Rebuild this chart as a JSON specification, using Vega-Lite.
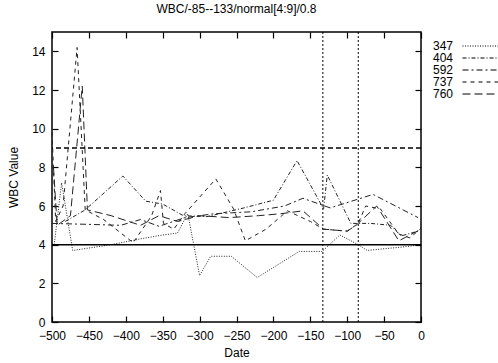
{
  "$schema": "https://vega.github.io/schema/vega-lite/v6.json",
  "width": 369,
  "height": 290,
  "autosize": {"type": "none"},
  "padding": {"left": 52, "top": 32, "right": 77, "bottom": 41},
  "title": {"text": "WBC/-85--133/normal[4:9]/0.8", "fontSize": 12, "fontWeight": "normal", "font": "Liberation Sans", "anchor": "middle", "offset": 15, "color": "black"},
  "config": {
    "font": "Liberation Sans",
    "view": {"stroke": "black", "strokeWidth": 1.5},
    "axis": {"domain": false, "grid": false, "tickColor": "black", "tickSize": -6, "tickWidth": 1.2, "labelFontSize": 12, "labelColor": "black", "titleFontSize": 12, "titleFontWeight": "normal", "titleColor": "black", "labelFont": "Liberation Sans", "titleFont": "Liberation Sans", "labelOverlap": false, "labelFlush": false}
  },
  "datasets": {
    "wbc": [
      {"id": "347", "date": -497, "v": 4.0}, {"id": "347", "date": -487, "v": 7.2}, {"id": "347", "date": -472, "v": 3.7}, {"id": "347", "date": -420, "v": 4.0}, {"id": "347", "date": -380, "v": 4.3}, {"id": "347", "date": -350, "v": 4.5}, {"id": "347", "date": -330, "v": 4.6}, {"id": "347", "date": -316, "v": 5.6}, {"id": "347", "date": -300, "v": 2.4}, {"id": "347", "date": -285, "v": 3.4}, {"id": "347", "date": -257, "v": 3.4}, {"id": "347", "date": -222, "v": 2.3}, {"id": "347", "date": -165, "v": 3.65}, {"id": "347", "date": -134, "v": 3.65}, {"id": "347", "date": -110, "v": 4.5}, {"id": "347", "date": -85, "v": 4.0}, {"id": "347", "date": -73, "v": 3.7}, {"id": "347", "date": -20, "v": 3.9}, {"id": "347", "date": 0, "v": 4.0},
      {"id": "404", "date": -482, "v": 5.2}, {"id": "404", "date": -455, "v": 5.8}, {"id": "404", "date": -404, "v": 7.55}, {"id": "404", "date": -373, "v": 6.25}, {"id": "404", "date": -350, "v": 6.1}, {"id": "404", "date": -322, "v": 5.5}, {"id": "404", "date": -290, "v": 5.45}, {"id": "404", "date": -240, "v": 5.9}, {"id": "404", "date": -200, "v": 6.3}, {"id": "404", "date": -168, "v": 8.35}, {"id": "404", "date": -132, "v": 5.85}, {"id": "404", "date": -127, "v": 7.6}, {"id": "404", "date": -95, "v": 5.1}, {"id": "404", "date": -68, "v": 5.1}, {"id": "404", "date": -41, "v": 5.0}, {"id": "404", "date": -27, "v": 4.45}, {"id": "404", "date": -4, "v": 4.7},
      {"id": "592", "date": -500, "v": 5.1}, {"id": "592", "date": -450, "v": 5.05}, {"id": "592", "date": -407, "v": 5.0}, {"id": "592", "date": -380, "v": 5.3}, {"id": "592", "date": -355, "v": 4.95}, {"id": "592", "date": -320, "v": 5.4}, {"id": "592", "date": -280, "v": 5.6}, {"id": "592", "date": -230, "v": 5.7}, {"id": "592", "date": -185, "v": 6.0}, {"id": "592", "date": -160, "v": 6.4}, {"id": "592", "date": -123, "v": 5.9}, {"id": "592", "date": -65, "v": 6.6}, {"id": "592", "date": -4, "v": 5.4},
      {"id": "737", "date": -500, "v": 9.8}, {"id": "737", "date": -495, "v": 5.2}, {"id": "737", "date": -485, "v": 6.0}, {"id": "737", "date": -466, "v": 14.2}, {"id": "737", "date": -455, "v": 5.8}, {"id": "737", "date": -430, "v": 5.3}, {"id": "737", "date": -390, "v": 4.1}, {"id": "737", "date": -365, "v": 5.5}, {"id": "737", "date": -353, "v": 6.8}, {"id": "737", "date": -349, "v": 5.1}, {"id": "737", "date": -335, "v": 4.8}, {"id": "737", "date": -320, "v": 5.6}, {"id": "737", "date": -278, "v": 7.4}, {"id": "737", "date": -254, "v": 5.85}, {"id": "737", "date": -238, "v": 4.2}, {"id": "737", "date": -210, "v": 4.8}, {"id": "737", "date": -181, "v": 5.75}, {"id": "737", "date": -150, "v": 5.2}, {"id": "737", "date": -132, "v": 4.8}, {"id": "737", "date": -100, "v": 4.7}, {"id": "737", "date": -85, "v": 5.1}, {"id": "737", "date": -75, "v": 6.0}, {"id": "737", "date": -55, "v": 5.85}, {"id": "737", "date": -30, "v": 4.55}, {"id": "737", "date": -15, "v": 4.35}, {"id": "737", "date": 0, "v": 4.85},
      {"id": "760", "date": -498, "v": 8.0}, {"id": "760", "date": -493, "v": 5.0}, {"id": "760", "date": -475, "v": 5.5}, {"id": "760", "date": -459, "v": 12.2}, {"id": "760", "date": -452, "v": 5.8}, {"id": "760", "date": -420, "v": 5.5}, {"id": "760", "date": -380, "v": 5.0}, {"id": "760", "date": -355, "v": 5.5}, {"id": "760", "date": -330, "v": 5.2}, {"id": "760", "date": -300, "v": 5.5}, {"id": "760", "date": -260, "v": 5.4}, {"id": "760", "date": -220, "v": 5.5}, {"id": "760", "date": -190, "v": 5.6}, {"id": "760", "date": -160, "v": 5.75}, {"id": "760", "date": -132, "v": 4.8}, {"id": "760", "date": -100, "v": 4.7}, {"id": "760", "date": -88, "v": 5.0}, {"id": "760", "date": -60, "v": 6.0}, {"id": "760", "date": -30, "v": 4.2}, {"id": "760", "date": 0, "v": 4.8}
    ],
    "hlines": [{"y": 4, "kind": "solid"}, {"y": 9, "kind": "dash"}],
    "vlines": [{"x": -133}, {"x": -85}]
  },
  "layer": [
    {
      "data": {"name": "wbc"},
      "mark": {"type": "line", "strokeWidth": 1, "color": "#222"},
      "encoding": {
        "x": {"field": "date", "type": "quantitative", "scale": {"domain": [-500, 0], "nice": false}, "axis": {"title": "Date", "values": [-500, -450, -400, -350, -300, -250, -200, -150, -100, -50, 0], "labelPadding": 14, "titlePadding": 6}},
        "y": {"field": "v", "type": "quantitative", "scale": {"domain": [0, 15], "nice": false}, "axis": {"title": "WBC Value", "values": [0, 2, 4, 6, 8, 10, 12, 14], "labelPadding": 13, "titlePadding": 11}},
        "strokeDash": {"field": "id", "type": "nominal", "scale": {"domain": ["347", "404", "592", "737", "760"], "range": [[1, 1.5], [4, 2, 1, 2], [6, 3, 2, 3], [4, 4], [8, 4]]},
          "legend": {"orient": "none", "legendX": 381, "legendY": 8, "title": null, "symbolType": "M-4,0H4", "symbolStrokeColor": "black", "symbolStrokeWidth": 1, "symbolSize": 81, "symbolOffset": 41.5, "labelOffset": -53.5, "labelFontSize": 12, "labelColor": "black", "rowPadding": 0}}
      }
    },
    {
      "data": {"name": "hlines"},
      "mark": {"type": "rule", "color": "black", "strokeWidth": 1.5},
      "encoding": {
        "y": {"field": "y", "type": "quantitative", "axis": {"orient": "right", "labels": false, "title": null, "values": [0, 2, 4, 6, 8, 10, 12, 14]}},
        "strokeDash": {"field": "kind", "type": "nominal", "scale": {"domain": ["solid", "dash", "x1", "x2", "x3"], "range": [[1, 0], [5, 3], [1, 0], [1, 0], [1, 0]]}, "legend": null}
      }
    },
    {
      "data": {"name": "vlines"},
      "mark": {"type": "rule", "color": "black", "strokeWidth": 1, "strokeDash": [2, 2]},
      "encoding": {
        "x": {"field": "x", "type": "quantitative", "axis": {"orient": "top", "labels": false, "title": null, "values": [-500, -450, -400, -350, -300, -250, -200, -150, -100, -50, 0]}}
      }
    }
  ],
  "resolve": {"axis": {"x": "independent", "y": "independent"}, "scale": {"strokeDash": "independent"}}
}
